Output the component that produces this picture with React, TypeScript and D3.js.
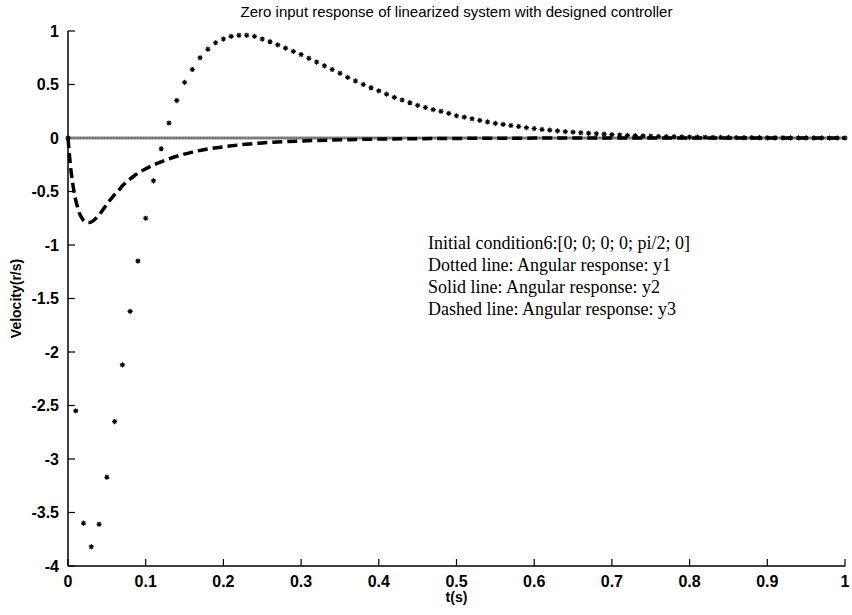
import React from "react";
import * as d3 from "d3";

// ---- data ----
const xTicks = [0, 0.1, 0.2, 0.3, 0.4, 0.5, 0.6, 0.7, 0.8, 0.9, 1];
const xTickLabels = ["0", "0.1", "0.2", "0.3", "0.4", "0.5", "0.6", "0.7", "0.8", "0.9", "1"];
const yTicks = [1, 0.5, 0, -0.5, -1, -1.5, -2, -2.5, -3, -3.5, -4];
const yTickLabels = ["1", "0.5", "0", "-0.5", "-1", "-1.5", "-2", "-2.5", "-3", "-3.5", "-4"];

// y1 : dotted (marker) series, sampled every 0.01 s
const y1Times = [
  0.0, 0.01, 0.02, 0.03, 0.04, 0.05, 0.06, 0.07, 0.08, 0.09,
  0.1, 0.11, 0.12, 0.13, 0.14, 0.15, 0.16, 0.17, 0.18, 0.19,
  0.2, 0.21, 0.22, 0.23, 0.24, 0.25, 0.26, 0.27, 0.28, 0.29,
  0.3, 0.31, 0.32, 0.33, 0.34, 0.35, 0.36, 0.37, 0.38, 0.39,
  0.4, 0.41, 0.42, 0.43, 0.44, 0.45, 0.46, 0.47, 0.48, 0.49,
  0.5, 0.51, 0.52, 0.53, 0.54, 0.55, 0.56, 0.57, 0.58, 0.59,
  0.6, 0.61, 0.62, 0.63, 0.64, 0.65, 0.66, 0.67, 0.68, 0.69,
  0.7, 0.71, 0.72, 0.73, 0.74, 0.75, 0.76, 0.77, 0.78, 0.79,
  0.8, 0.81, 0.82, 0.83, 0.84, 0.85, 0.86, 0.87, 0.88, 0.89,
  0.9, 0.91, 0.92, 0.93, 0.94, 0.95, 0.96, 0.97, 0.98, 0.99, 1.0,
];
const y1Values = [
  0, -2.55, -3.6, -3.82, -3.61, -3.17, -2.65, -2.12, -1.62, -1.15,
  -0.75, -0.4, -0.1, 0.14, 0.35, 0.52, 0.64, 0.75, 0.83, 0.89,
  0.925, 0.95, 0.96, 0.96, 0.95, 0.925, 0.9, 0.87, 0.84, 0.81,
  0.78, 0.745, 0.71, 0.675, 0.64, 0.605, 0.567, 0.533, 0.5, 0.47,
  0.44, 0.41, 0.38, 0.355, 0.33, 0.305, 0.285, 0.265, 0.25, 0.23,
  0.208, 0.195, 0.18, 0.165, 0.15, 0.137, 0.127, 0.117, 0.108, 0.097,
  0.089, 0.08, 0.074, 0.067, 0.06, 0.055, 0.049, 0.044, 0.04, 0.036,
  0.032, 0.028, 0.025, 0.022, 0.02, 0.017, 0.015, 0.013, 0.012, 0.01,
  0.009, 0.008, 0.007, 0.006, 0.005, 0.005, 0.004, 0.003, 0.003, 0.003,
  0.002, 0.002, 0.002, 0.001, 0.001, 0.001, 0.001, 0.001, 0, 0, 0,
];

// y2 : solid line (stays at zero)
const y2Times = [0, 0.25, 0.5, 0.75, 1];
const y2Values = [0, 0, 0, 0, 0];

// y3 : dashed line
const y3Times = [
  0, 0.003, 0.006, 0.009, 0.012, 0.015, 0.019, 0.023, 0.027, 0.031,
  0.036, 0.041, 0.046, 0.052, 0.058, 0.065, 0.071, 0.078, 0.085, 0.092,
  0.1, 0.114, 0.129, 0.144, 0.16, 0.18, 0.2, 0.22, 0.25, 0.3,
  0.35, 0.4, 0.5, 0.6, 0.7, 1.0,
];
const y3Values = [
  0, -0.25, -0.42, -0.55, -0.64, -0.71, -0.76, -0.785, -0.79, -0.78,
  -0.75, -0.71, -0.66, -0.6, -0.545, -0.49, -0.44, -0.395, -0.355, -0.32,
  -0.288, -0.24, -0.197, -0.162, -0.132, -0.103, -0.082, -0.065, -0.046, -0.028,
  -0.017, -0.01, -0.004, -0.001, 0, 0,
];

const titleText = "Zero input response of linearized system with designed controller";
const xLabel = "t(s)";
const yLabel = "Velocity(r/s)";
const noteLines = [
  "Initial condition6:[0; 0; 0; 0; pi/2; 0]",
  "Dotted line: Angular response: y1",
  "Solid line: Angular response: y2",
  "Dashed line: Angular response: y3",
];

const W = 852;
const H = 615;
const L = 68, R = 845, T = 31, B = 566;

export default function App() {
  const x = d3.scaleLinear().domain([0, 1]).range([L, R]);
  const y = d3.scaleLinear().domain([-4, 1]).range([B, T]);
  const line = d3
    .line<[number, number]>()
    .x((d) => x(d[0]))
    .y((d) => y(d[1]))
    .curve(d3.curveMonotoneX);
  const y2Path = line(y2Times.map((t, i) => [t, y2Values[i]]) as [number, number][]) || "";
  const y3Path = line(y3Times.map((t, i) => [t, y3Values[i]]) as [number, number][]) || "";
  const star = "M-2.6,0H2.6M0,-2.6V2.6M-1.8,-1.8L1.8,1.8M-1.8,1.8L1.8,-1.8";
  const sans = "'Liberation Sans', Arial, sans-serif";
  const serif = "'Liberation Serif', 'Times New Roman', serif";
  const tickLen = 7;

  return (
    <svg
      width={W}
      height={H}
      style={{ position: "absolute", left: 0, top: 0, background: "#fff" }}
    >
      <rect x={0} y={0} width={W} height={H} fill="#fff" />
      {/* title */}
      <text x={(L + R) / 2} y={17} textAnchor="middle" fontFamily={sans} fontSize={15} fill="#000">
        {titleText}
      </text>
      {/* axes */}
      <line x1={L} y1={T} x2={L} y2={B} stroke="#000" strokeWidth={1.5} />
      <line x1={L} y1={B} x2={R} y2={B} stroke="#000" strokeWidth={1.5} />
      {yTicks.map((v, i) => (
        <g key={"yt" + i}>
          <line x1={L} x2={L + tickLen} y1={y(v)} y2={y(v)} stroke="#000" strokeWidth={1.2} />
          <text x={L - 9} y={y(v)} dy="0.35em" textAnchor="end" fontFamily={sans} fontSize={16} fontWeight="bold" fill="#000">
            {yTickLabels[i]}
          </text>
        </g>
      ))}
      {xTicks.map((v, i) => (
        <g key={"xt" + i}>
          <line x1={x(v)} x2={x(v)} y1={B} y2={B - tickLen} stroke="#000" strokeWidth={1.2} />
          <text x={x(v)} y={B + 21} textAnchor="middle" fontFamily={sans} fontSize={16} fontWeight="bold" fill="#000">
            {xTickLabels[i]}
          </text>
        </g>
      ))}
      <text x={(L + R) / 2} y={B + 36} textAnchor="middle" fontFamily={sans} fontSize={14} fontWeight="bold" fill="#000">
        {xLabel}
      </text>
      <text
        transform={`translate(21,${(T + B) / 2}) rotate(-90)`}
        textAnchor="middle"
        fontFamily={sans}
        fontSize={14}
        fontWeight="bold"
        fill="#000"
      >
        {yLabel}
      </text>
      {/* solid zero line */}
      <path d={y2Path} fill="none" stroke="#888" strokeWidth={3} />
      <path d={y2Path} fill="none" stroke="#555" strokeWidth={1} strokeDasharray="1.5,1.5" />
      {/* dashed */}
      <path d={y3Path} fill="none" stroke="#000" strokeWidth={3.5} strokeDasharray="10,5" />
      {/* dotted markers */}
      {y1Times.map((t, i) => (
        <path
          key={"m" + i}
          d={star}
          transform={`translate(${x(t)},${y(y1Values[i])})`}
          stroke="#000"
          strokeWidth={1.1}
          fill="none"
        />
      ))}
      {/* annotation */}
      {noteLines.map((s, i) => (
        <text key={"n" + i} x={428} y={249 + i * 22} fontFamily={serif} fontSize={18} fill="#000">
          {s}
        </text>
      ))}
    </svg>
  );
}
